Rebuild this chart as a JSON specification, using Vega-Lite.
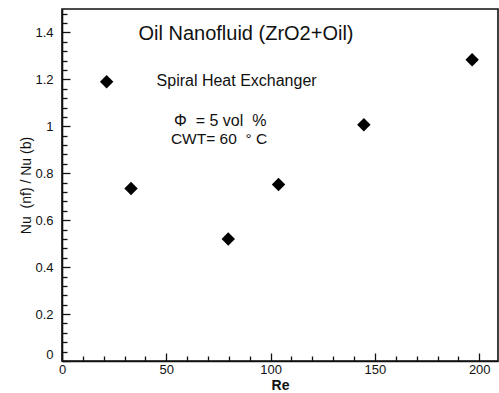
{
  "$schema": "https://vega.github.io/schema/vega-lite/v6.json",
  "width": 436,
  "height": 352,
  "autosize": {"type": "none"},
  "padding": {"left": 62, "top": 9, "right": 1, "bottom": 31},
  "background": "white",
  "config": {
    "view": {"stroke": "#111", "strokeWidth": 1.6},
    "font": "Liberation Sans",
    "axis": {
      "grid": false,
      "domainColor": "#111",
      "domainWidth": 1.6,
      "tickColor": "#111",
      "tickWidth": 1.3,
      "labelFont": "Liberation Sans",
      "labelFontSize": 13,
      "labelColor": "#111",
      "titleFont": "Liberation Sans",
      "titleColor": "#111"
    }
  },
  "data": {
    "values": [
      {"Re": 21.4, "Nu": 1.19},
      {"Re": 33.1, "Nu": 0.735},
      {"Re": 79.7, "Nu": 0.52},
      {"Re": 103.8, "Nu": 0.752},
      {"Re": 144.7, "Nu": 1.007},
      {"Re": 196.6, "Nu": 1.284}
    ]
  },
  "layer": [
    {
      "mark": {"type": "point", "opacity": 0},
      "encoding": {
        "x": {
          "field": "Re", "type": "quantitative",
          "scale": {"domain": [0, 209], "nice": false, "zero": false},
          "axis": {"orient": "bottom", "values": [10,20,30,40,60,70,80,90,110,120,130,140,160,170,180,190], "labels": false, "domain": false, "tickSize": -5, "title": null}
        },
        "y": {
          "field": "Nu", "type": "quantitative",
          "scale": {"domain": [0, 1.5], "nice": false, "zero": false},
          "axis": {"orient": "left", "values": [0.04,0.08,0.12,0.16,0.24,0.28,0.32,0.36,0.44,0.48,0.52,0.56,0.64,0.68,0.72,0.76,0.84,0.88,0.92,0.96,1.04,1.08,1.12,1.16,1.24,1.28,1.32,1.36,1.44,1.48], "labels": false, "domain": false, "tickSize": -5, "title": null}
        }
      }
    },
    {
      "layer": [
        {
          "mark": {"type": "point", "shape": "diamond", "filled": true, "color": "black", "opacity": 1, "size": 180},
          "encoding": {
            "x": {
              "field": "Re", "type": "quantitative",
              "scale": {"domain": [0, 209], "nice": false, "zero": false},
              "axis": {"orient": "bottom", "values": [0, 50, 100, 150, 200], "format": "d", "tickSize": -8, "labelPadding": 10, "labelFlush": false, "title": "Re", "titleFontSize": 14, "titleFontWeight": "bold", "titlePadding": 2}
            },
            "y": {
              "field": "Nu", "type": "quantitative",
              "scale": {"domain": [0, 1.5], "nice": false, "zero": false},
              "axis": {"orient": "left", "values": [0, 0.2, 0.4, 0.6, 0.8, 1, 1.2, 1.4], "format": "~r", "tickSize": -8, "labelPadding": 17, "labelFlush": true, "title": "Nu\u00a0\u00a0(nf) / Nu (b)", "titleFontSize": 14, "titleFontWeight": "normal", "titlePadding": 1}
            }
          }
        },
        {
          "data": {"values": [{}]},
          "mark": {"type": "text", "text": "Oil Nanofluid (ZrO2+Oil)", "fontSize": 20, "fontWeight": "normal", "align": "center", "baseline": "middle", "color": "#111"},
          "encoding": {"x": {"datum": 88.2, "type": "quantitative"}, "y": {"datum": 1.393, "type": "quantitative"}}
        },
        {
          "data": {"values": [{}]},
          "mark": {"type": "text", "text": "Spiral Heat Exchanger", "fontSize": 16, "fontWeight": "normal", "align": "center", "baseline": "middle", "color": "#111"},
          "encoding": {"x": {"datum": 83.7, "type": "quantitative"}, "y": {"datum": 1.194, "type": "quantitative"}}
        },
        {
          "data": {"values": [{}]},
          "mark": {"type": "text", "text": "Φ\u00a0\u00a0= 5 vol\u00a0\u00a0%", "fontSize": 16, "fontWeight": "normal", "align": "left", "baseline": "middle", "color": "#111"},
          "encoding": {"x": {"datum": 53.7, "type": "quantitative"}, "y": {"datum": 1.023, "type": "quantitative"}}
        },
        {
          "data": {"values": [{}]},
          "mark": {"type": "text", "text": "CWT= 60\u00a0\u00a0° C", "fontSize": 15.5, "fontWeight": "normal", "align": "left", "baseline": "middle", "color": "#111"},
          "encoding": {"x": {"datum": 52.2, "type": "quantitative"}, "y": {"datum": 0.945, "type": "quantitative"}}
        }
      ]
    }
  ],
  "resolve": {"scale": {"x": "independent", "y": "independent"}, "axis": {"x": "independent", "y": "independent"}}
}
